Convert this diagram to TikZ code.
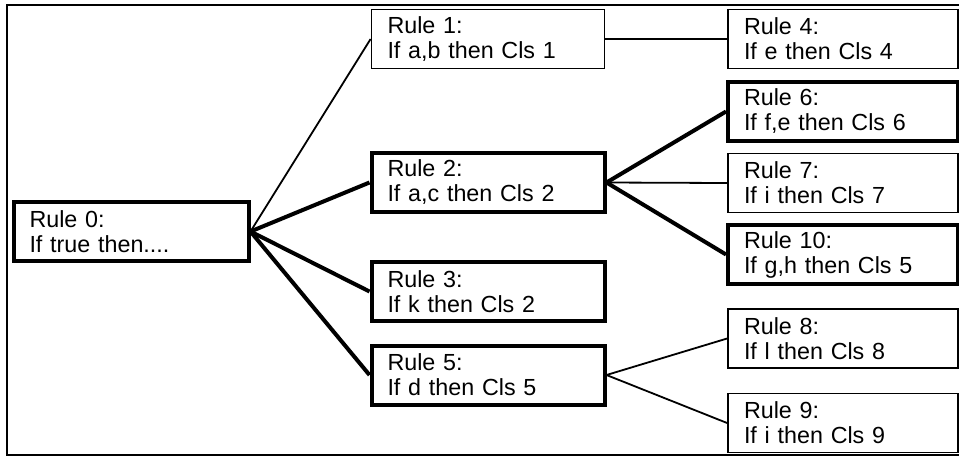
\documentclass[tikz,border=0pt]{standalone}
\usepackage{fontspec}
\setmainfont{Liberation Sans}
\begin{document}
\begin{tikzpicture}[x=1pt, y=-1pt,
  rulebox/.style={draw, rectangle, line width=1.8pt, minimum height=59pt, inner xsep=16pt, inner ysep=0pt, align=left, font=\fontsize{23.3}{25}\selectfont},
  midbox/.style={rulebox, minimum width=233pt, text width=201pt},
  endbox/.style={rulebox, minimum width=230pt, text width=198pt},
  strong/.style={line width=4pt},
  thinlink/.style={line width=1.8pt},
  thicklink/.style={line width=4pt}]

% Page and frame
\useasboundingbox (0,0) rectangle (959,456);
\draw[line width=2.2pt] (7,5) rectangle (966,455);

% Root rule
\node[midbox, strong, minimum width=235pt, text width=203pt] (r0) at (131,231.5) {Rule 0:\\If true then....};

% First level
\node[midbox] (r1) at (488,39) {Rule 1:\\If a,b then Cls 1};
\node[midbox, strong] (r2) at (488,182.5) {Rule 2:\\If a,c then Cls 2};
\node[midbox, strong] (r3) at (488,291.5) {Rule 3:\\If k then Cls 2};
\node[midbox, strong] (r5) at (488,375) {Rule 5:\\If d then Cls 5};

% Second level
\node[endbox] (r4) at (843,39) {Rule 4:\\If e then Cls 4};
\node[endbox, strong] (r6) at (843,111.5) {Rule 6:\\If f,e then Cls 6};
\node[endbox] (r7) at (843,183) {Rule 7:\\If i then Cls 7};
\node[endbox, strong] (r10) at (843,254.5) {Rule 10:\\If g,h then Cls 5};
\node[endbox] (r8) at (843,338.5) {Rule 8:\\If l then Cls 8};
\node[endbox] (r9) at (843,423) {Rule 9:\\If i then Cls 9};

% Links
\foreach \a/\b in {r0/r1, r1/r4, r2/r7, r5/r8, r5/r9} {
    \draw[thinlink] (\a.east) -- (\b.west);
}
\foreach \a/\b in {r0/r2, r0/r3, r0/r5, r2/r6, r2/r10} {
    \draw[thicklink] (\a.east) -- (\b.west);
}

\end{tikzpicture}
\end{document}
